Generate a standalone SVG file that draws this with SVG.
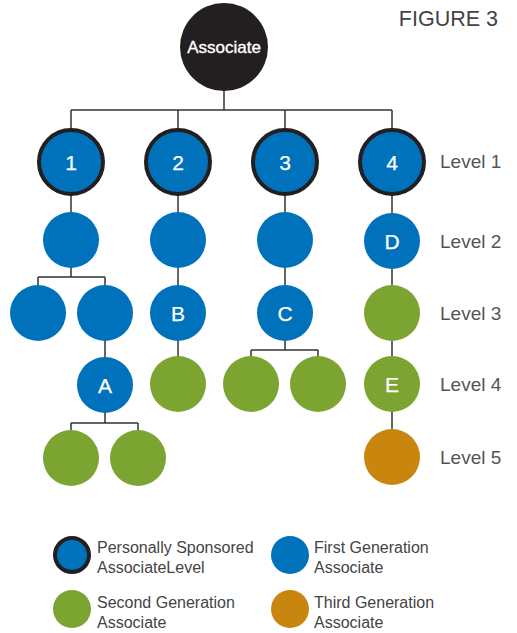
<svg xmlns="http://www.w3.org/2000/svg" width="517" height="633" viewBox="0 0 517 633">
<style>
.ln{stroke:#333;stroke-width:1.5;fill:none}
.blue{fill:#0072BC}
.green{fill:#7BA431}
.orange{fill:#C8860F}
.ps{fill:#0072BC;stroke:#231F20;stroke-width:4}
.nl{font-family:"Liberation Sans",Arial,sans-serif;font-size:21px;fill:#fff;stroke:#fff;stroke-width:0.25;text-anchor:middle}
.lv{font-family:"Liberation Sans",Arial,sans-serif;font-size:19px;fill:#555}
.lg{font-family:"Liberation Sans",Arial,sans-serif;font-size:16px;fill:#444}
</style>
<rect width="517" height="633" fill="#fff"/>
<text x="498" y="26" text-anchor="end" font-family="Liberation Sans, Arial, sans-serif" font-size="21.5" fill="#444">FIGURE 3</text>
<g id="connectors">
<path class="ln" d="M224 90V110M71 110H392M71 110V130M178 110V130M285 110V130M392 110V130"/>
<path class="ln" d="M71 194V240M71 240V277M38 277H105M38 277V300M105 277V300M105 313V385M105 385V423M71 423H138M71 423V440M138 423V440"/>
<path class="ln" d="M178 194V384"/>
<path class="ln" d="M285 194V350M251 350H318M251 350V370M318 350V370"/>
<path class="ln" d="M392 194V457"/>
</g>
<g id="root"><circle cx="224" cy="47" r="44" fill="#231F20"/><text x="224" y="53" text-anchor="middle" font-family="Liberation Sans, Arial, sans-serif" font-size="17" fill="#fff" stroke="#fff" stroke-width="0.35">Associate</text></g>
<g id="n1"><circle class="ps" cx="71" cy="162" r="32"/><text class="nl" x="71" y="170">1</text></g>
<g id="n2"><circle class="ps" cx="178" cy="162" r="32"/><text class="nl" x="178" y="170">2</text></g>
<g id="n3"><circle class="ps" cx="285" cy="162" r="32"/><text class="nl" x="285" y="170">3</text></g>
<g id="n4"><circle class="ps" cx="392" cy="162" r="32"/><text class="nl" x="392" y="170">4</text></g>
<g id="n1a"><circle class="blue" cx="71" cy="240" r="28"/></g>
<g id="n1b"><circle class="blue" cx="38" cy="313" r="28"/></g>
<g id="n1c"><circle class="blue" cx="105" cy="313" r="28"/></g>
<g id="nA"><circle class="blue" cx="105" cy="385" r="28"/><text class="nl" x="105" y="393">A</text></g>
<g id="nA1"><circle class="green" cx="71" cy="458" r="28"/></g>
<g id="nA2"><circle class="green" cx="138" cy="458" r="28"/></g>
<g id="n2a"><circle class="blue" cx="178" cy="240" r="28"/></g>
<g id="nB"><circle class="blue" cx="178" cy="313" r="28"/><text class="nl" x="178" y="321">B</text></g>
<g id="nB1"><circle class="green" cx="178" cy="384" r="28"/></g>
<g id="n3a"><circle class="blue" cx="285" cy="240" r="28"/></g>
<g id="nC"><circle class="blue" cx="285" cy="313" r="28"/><text class="nl" x="285" y="321">C</text></g>
<g id="nC1"><circle class="green" cx="251" cy="384" r="28"/></g>
<g id="nC2"><circle class="green" cx="318" cy="384" r="28"/></g>
<g id="nD"><circle class="blue" cx="392" cy="241" r="28"/><text class="nl" x="392" y="249">D</text></g>
<g id="nD1"><circle class="green" cx="392" cy="313" r="28"/></g>
<g id="nE"><circle class="green" cx="392" cy="384" r="28"/><text class="nl" x="392" y="392">E</text></g>
<g id="nE1"><circle class="orange" cx="392" cy="457" r="28"/></g>
<g id="levels">
<text class="lv" x="440" y="168">Level 1</text>
<text class="lv" x="440" y="248">Level 2</text>
<text class="lv" x="440" y="320">Level 3</text>
<text class="lv" x="440" y="391">Level 4</text>
<text class="lv" x="440" y="464">Level 5</text>
</g>
<g id="legend">
<circle class="ps" cx="72" cy="555" r="17" stroke-width="3"/>
<text class="lg" x="97" y="553">Personally Sponsored</text>
<text class="lg" x="97" y="573">AssociateLevel</text>
<circle class="blue" cx="290" cy="555" r="19"/>
<text class="lg" x="314" y="553">First Generation</text>
<text class="lg" x="314" y="573">Associate</text>
<circle class="green" cx="72" cy="609" r="19"/>
<text class="lg" x="97" y="608">Second Generation</text>
<text class="lg" x="97" y="628">Associate</text>
<circle class="orange" cx="290" cy="609" r="19"/>
<text class="lg" x="314" y="608">Third Generation</text>
<text class="lg" x="314" y="628">Associate</text>
</g>
</svg>
